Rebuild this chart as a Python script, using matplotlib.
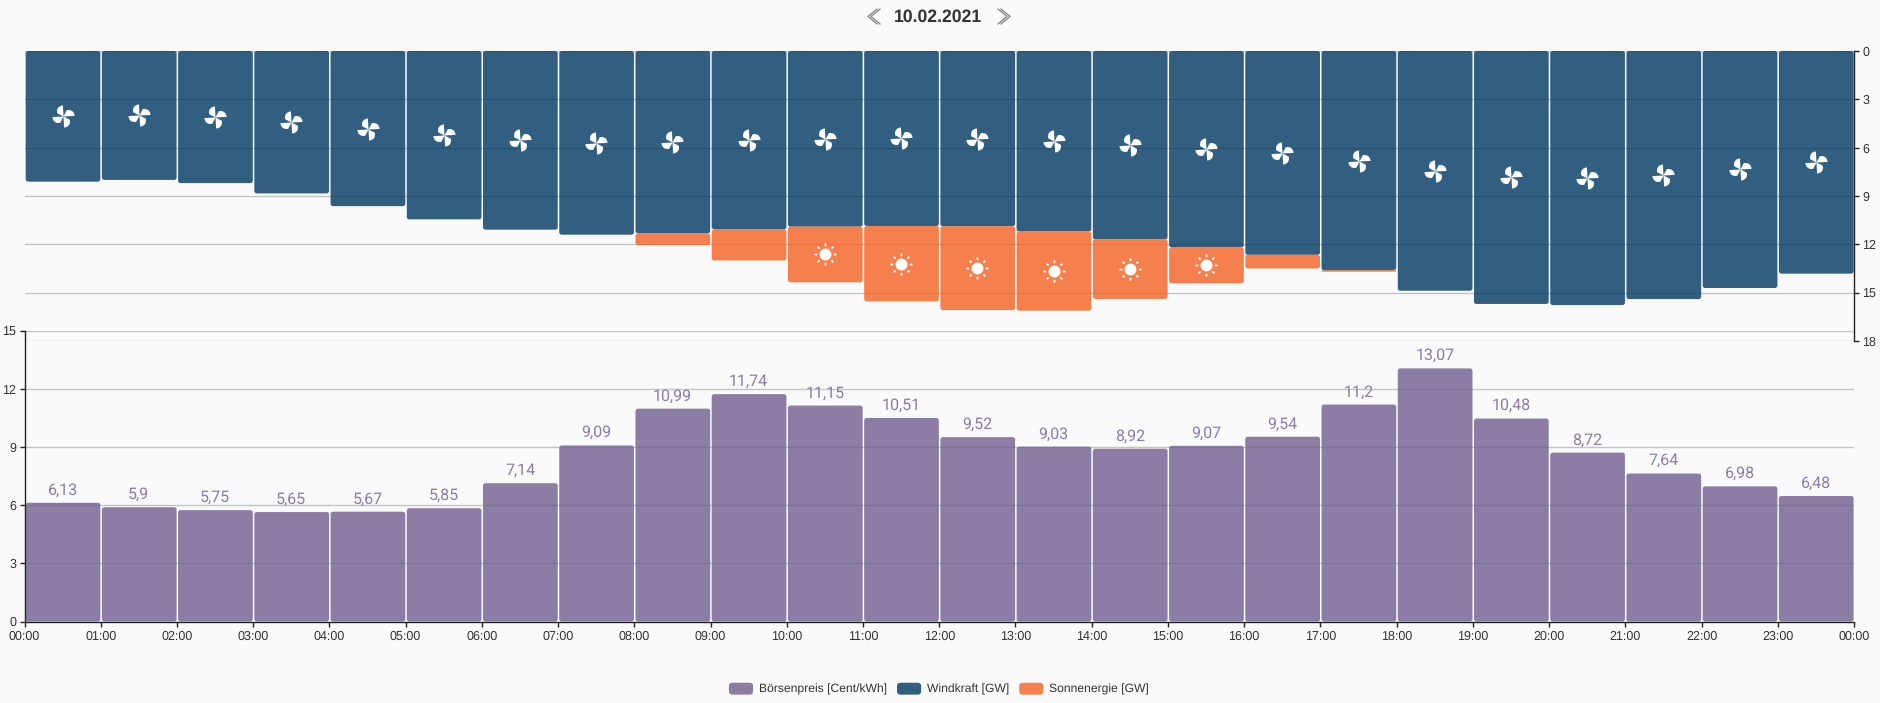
import matplotlib
matplotlib.use("Agg")
import matplotlib.pyplot as plt
from matplotlib.colors import to_rgba
from matplotlib.legend_handler import HandlerPatch
from matplotlib.lines import Line2D
from matplotlib.markers import MarkerStyle
from matplotlib.patches import FancyBboxPatch, Patch
from matplotlib.path import Path
from matplotlib.transforms import Affine2D

plt.rcParams["font.family"] = ["Liberation Sans", "DejaVu Sans"]
plt.rcParams["text.hinting"] = "no_hinting"

# Data
hours = list(range(24))
tick_labels = [f"{h % 24:02d}:00" for h in range(25)]
price = [6.13, 5.9, 5.75, 5.65, 5.67, 5.85, 7.14, 9.09, 10.99, 11.74, 11.15, 10.51,
         9.52, 9.03, 8.92, 9.07, 9.54, 11.2, 13.07, 10.48, 8.72, 7.64, 6.98, 6.48]
wind = [8.11, 8.0, 8.2, 8.84, 9.63, 10.45, 11.09, 11.4, 11.32, 11.07, 10.9, 10.86,
        10.88, 11.2, 11.69, 12.19, 12.65, 13.6, 14.88, 15.7, 15.77, 15.4, 14.71, 13.82]
solar = [0, 0, 0, 0, 0, 0, 0, 0, 0.72, 1.93, 3.46, 4.68,
         5.2, 4.92, 3.7, 2.23, 0.85, 0.1, 0, 0, 0, 0, 0, 0]

BG = "#fafafa"
# bars are 80% opaque so the grid shows through; these give the seen colours over BG
PURPLE = "#6f5e8e"
BLUE = "#003862"
ORANGE = "#f46222"
BAR_ALPHA = 0.8
TEXT = "#333333"
AXIS = "#222222"
LABEL = "#8b7da4"

W, H = 1880, 703
LEFT, RIGHT = 24.5, 1854.0
HOUR_PX = (RIGHT - LEFT) / 24


def make_axes(y_top, y_bottom):
    return fig.add_axes([LEFT / W, 1 - y_bottom / H, (RIGHT - LEFT) / W, (y_bottom - y_top) / H])


def rounded_bars(ax, bottoms, heights, color, px_per_unit):
    aspect = HOUR_PX / px_per_unit
    radius = 2.5 / HOUR_PX
    for h, b, v in zip(hours, bottoms, heights):
        if v <= 0:
            continue
        r = min(radius, v / 2 / aspect)
        ax.add_patch(FancyBboxPatch((h + 0.015, b), 0.98, v, boxstyle=f"round,pad=0,rounding_size={r}",
                                    mutation_aspect=aspect, facecolor=to_rgba(color, BAR_ALPHA),
                                    edgecolor="none", zorder=2))


def style_grid(ax):
    ax.set_axisbelow(True)
    ax.grid(axis="y", color="#c4c4c4", linewidth=1.0)
    ax.grid(axis="x", visible=False)
    ax.set_facecolor("none")
    for s in ax.spines.values():
        s.set_visible(False)
        s.set_color(AXIS)
        s.set_linewidth(1.0)
    ax.tick_params(length=3.6, width=1.0, color=AXIS, labelsize=9.0, labelcolor=TEXT, pad=2.5)


def fan_marker():
    blade = Path([(0, 0), (1, 0), (1, 0.42), (0.7, 0.62), (0.32, 0.55), (0, 0), (0, 0)],
                 [Path.MOVETO, Path.LINETO, Path.CURVE4, Path.CURVE4, Path.CURVE4, Path.LINETO, Path.CLOSEPOLY])
    parts = [blade.transformed(Affine2D().rotate_deg(3 + 90 * i)) for i in range(4)]
    return MarkerStyle(Path.make_compound_path(*parts))


def sun_marker():
    disc = Path.unit_circle().transformed(Affine2D().scale(0.54))
    ray = Path([(0.76, -0.08), (1, -0.08), (1, 0.08), (0.76, 0.08), (0.76, -0.08)],
               [Path.MOVETO, Path.LINETO, Path.LINETO, Path.LINETO, Path.CLOSEPOLY])
    parts = [ray.transformed(Affine2D().rotate_deg(45 * i)) for i in range(8)]
    return MarkerStyle(Path.make_compound_path(disc, *parts))


fig = plt.figure(figsize=(W / 100, H / 100), dpi=100, facecolor=BG)

# Top chart, hanging down from 0
ax_top = make_axes(51, 341)
ax_top.set_xlim(0, 24)
ax_top.set_ylim(18, 0)
style_grid(ax_top)
top_px = 290 / 18
rounded_bars(ax_top, [0] * 24, wind, BLUE, top_px)
rounded_bars(ax_top, wind, solar, ORANGE, top_px)
ax_top.scatter([h + 0.5 for h in hours], [w / 2 for w in wind], marker=fan_marker(), s=251,
               color="white", linewidths=0, zorder=4)
sun_hours = [h for h in hours if solar[h] > 2]
ax_top.scatter([h + 0.5 for h in sun_hours], [wind[h] + solar[h] / 2 for h in sun_hours],
               marker=sun_marker(), s=251, color="white", linewidths=0, zorder=4)
ax_top.spines["right"].set_visible(True)
ax_top.yaxis.tick_right()
ax_top.set_yticks([0, 3, 6, 9, 12, 15, 18])
ax_top.set_xticks([])

# Bottom chart, price
ax_bot = make_axes(331, 621.5)
ax_bot.set_xlim(0, 24)
ax_bot.set_ylim(0, 15)
style_grid(ax_bot)
rounded_bars(ax_bot, [0] * 24, price, PURPLE, 290.5 / 15)
ax_bot.spines["left"].set_visible(True)
ax_bot.spines["bottom"].set_visible(True)
ax_bot.set_yticks([0, 3, 6, 9, 12, 15])
ax_bot.set_xticks(range(25), tick_labels)
for h, v in zip(hours, price):
    ax_bot.annotate(str(v).replace(".", ","), (h + 0.5, v), xytext=(0, 6), textcoords="offset points",
                    ha="center", va="baseline", color=LABEL, fontsize=11.5, family=["Roboto", "DejaVu Sans"],
                    zorder=5)

# Date header with chevrons
fig.text(938 / W, 1 - 17.5 / H, "10.02.2021", ha="center", va="center", fontsize=12.7, fontweight="bold", color=TEXT)
for tip, back in [(868, 877), (1010, 1001)]:
    for off in (0, 3 if tip < back else -3):
        fig.add_artist(Line2D([(back + off) / W, (tip + off) / W, (back + off) / W],
                              [1 - 9 / H, 1 - 16.5 / H, 1 - 24 / H], color="#808080", linewidth=0.9))


def rounded_handle(legend, orig_handle, xdescent, ydescent, width, height, fontsize):
    return FancyBboxPatch((-xdescent, -ydescent), width, height, boxstyle="round,pad=0,rounding_size=2.5")


# Legend
handles = [Patch(facecolor=to_rgba(PURPLE, BAR_ALPHA), edgecolor="none", label="Börsenpreis [Cent/kWh]"),
           Patch(facecolor=to_rgba(BLUE, BAR_ALPHA), edgecolor="none", label="Windkraft [GW]"),
           Patch(facecolor=to_rgba(ORANGE, BAR_ALPHA), edgecolor="none", label="Sonnenergie [GW]")]
fig.legend(handles=handles, ncols=3, loc="center", bbox_to_anchor=(939 / W, 1 - 689 / H), frameon=False,
           fontsize=8.7, labelcolor=TEXT, handlelength=2.0, handleheight=1.14, handletextpad=0.49,
           columnspacing=0.82, borderpad=0, borderaxespad=0,
           handler_map={Patch: HandlerPatch(patch_func=rounded_handle)})

fig.savefig("out.png", dpi=100, facecolor=BG)
